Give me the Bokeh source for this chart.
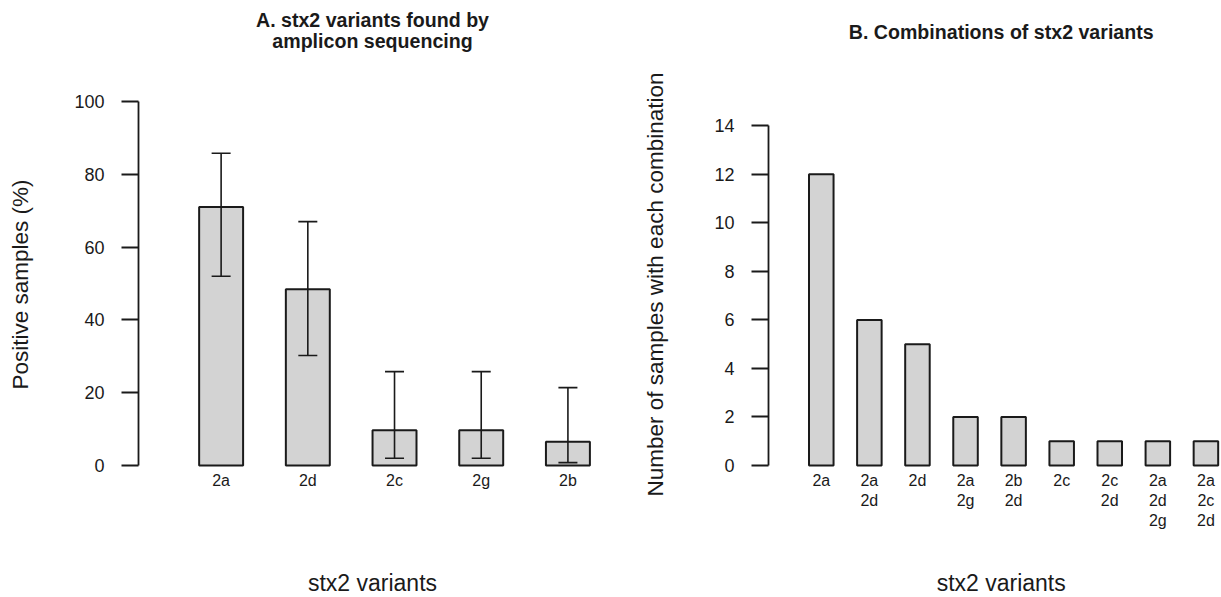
from bokeh.plotting import figure
from bokeh.layouts import row, column
from bokeh.models import (Range1d, FixedTicker, Whisker, TeeHead, ColumnDataSource,
                          Label)
from bokeh.embed import file_html
from bokeh.resources import INLINE

FONT = "Liberation Sans"
INK = "#1a1a1a"
BAR_FILL = "#d3d3d3"

# ---- Panel A data ----
variants = ["2a", "2d", "2c", "2g", "2b"]
positive_pct = [71.0, 48.4, 9.7, 9.7, 6.5]
ci_lower = [52.0, 30.2, 2.0, 2.0, 0.8]
ci_upper = [85.8, 67.0, 25.8, 25.8, 21.4]
pct_ticks = [0, 20, 40, 60, 80, 100]

# ---- Panel B data ----
combinations = ["2a", "2a\n2d", "2d", "2a\n2g", "2b\n2d", "2c", "2c\n2d",
                "2a\n2d\n2g", "2a\n2c\n2d"]
combo_counts = [12, 6, 5, 2, 2, 1, 1, 1, 1]
count_ticks = [0, 2, 4, 6, 8, 10, 12, 14]

# ---- layout constants (pixels) ----
H = 597
HEAD = 70                     # strip holding the panel title
TOP = 31                      # main figure border above the frame (frame top at 101)
FRAME_H = 366
BOTTOM = 80                   # room for tick labels
MAIN_H = TOP + FRAME_H + BOTTOM
FOOT = H - HEAD - MAIN_H      # strip holding the x-axis title
W1, L1, R1 = 620, 138, 14
W2, L2, R2 = 601, 148, 0
BASELINE_FIX = 0.4            # empirical shift of label baselines (in em)


def text_strip(width, height, items):
    """A blank strip whose frame lines up with the panel frame below/above it.
    items: (text, x from frame left, baseline from strip top, size px, bold)"""
    s = figure(width=width, height=height, x_range=Range1d(0, 1), y_range=Range1d(0, 1),
               output_backend="svg", toolbar_location=None,
               x_axis_location=None, y_axis_location=None,
               min_border_left=0, min_border_right=0, min_border_top=0,
               min_border_bottom=0)
    s.outline_line_color = None
    s.grid.visible = False
    for text, xc, base, size, bold in items:
        s.add_layout(Label(text=text, x=xc, y=height - (base - BASELINE_FIX * size),
                           x_units="screen", y_units="screen",
                           text_align="center", text_baseline="alphabetic",
                           text_font=FONT, text_font_size=f"{size}px",
                           text_font_style="bold" if bold else "normal",
                           text_color=INK))
    return s


def base_style(p, xs, labels, yticks, ybounds, ylabel, ylabel_standoff):
    p.xgrid.visible = False
    p.ygrid.visible = False
    p.outline_line_color = None
    p.background_fill_color = "white"
    p.border_fill_color = "white"

    xa = p.xaxis[0]
    xa.ticker = FixedTicker(ticks=xs)
    xa.major_label_overrides = {x: lab for x, lab in zip(xs, labels)}
    xa.axis_line_color = None
    xa.major_tick_line_color = None
    xa.minor_tick_line_color = None
    xa.major_label_standoff = -2
    xa.major_label_text_font = FONT
    xa.major_label_text_font_size = "16px"
    xa.major_label_text_color = INK
    xa.major_label_text_line_height = 1.18

    ya = p.yaxis[0]
    ya.ticker = FixedTicker(ticks=yticks)
    ya.bounds = ybounds
    ya.axis_line_color = INK
    ya.axis_line_width = 1.8
    ya.major_tick_line_color = INK
    ya.major_tick_line_width = 1.8
    ya.minor_tick_line_color = None
    ya.major_tick_out = 17
    ya.major_tick_in = 0
    ya.major_label_standoff = 17
    ya.major_label_text_font = FONT
    ya.major_label_text_font_size = "18px"
    ya.major_label_text_color = INK
    ya.axis_label = ylabel
    ya.axis_label_standoff = ylabel_standoff
    ya.axis_label_text_font = FONT
    ya.axis_label_text_font_size = "22.5px"
    ya.axis_label_text_font_style = "normal"
    ya.axis_label_text_color = INK


# ---------------- Panel A ----------------
xs_a = list(range(1, len(variants) + 1))
p1 = figure(width=W1, height=MAIN_H, x_range=Range1d(0.047, 5.445),
            y_range=Range1d(-0.549, 100), output_backend="svg",
            toolbar_location=None, min_border_left=L1, min_border_right=R1,
            min_border_top=TOP, min_border_bottom=BOTTOM)
src_a = ColumnDataSource(dict(x=xs_a, top=positive_pct, lower=ci_lower, upper=ci_upper))
p1.vbar(x="x", top="top", bottom=0, width=0.507, source=src_a,
        fill_color=BAR_FILL, line_color=INK, line_width=2)
p1.add_layout(Whisker(source=src_a, base="x", lower="lower", upper="upper",
                      dimension="height", level="annotation",
                      line_color=INK, line_width=1.6,
                      upper_head=TeeHead(size=19, line_color=INK, line_width=1.6),
                      lower_head=TeeHead(size=19, line_color=INK, line_width=1.6)))
base_style(p1, xs_a, variants, pct_ticks, (0, 100), "Positive samples (%)", 38)

c1 = 372 - L1                 # panel A titles are centred at x = 372
head1 = text_strip(W1, HEAD, [("A. stx2 variants found by", c1, 27.5, 19.6, True),
                              ("amplicon sequencing", c1, 48.0, 19.6, True)])
foot1 = text_strip(W1, FOOT, [("stx2 variants", c1, 592 - HEAD - MAIN_H, 23, False)])

# ---------------- Panel B ----------------
xs_b = list(range(1, len(combinations) + 1))
p2 = figure(width=W2, height=MAIN_H, x_range=Range1d(-0.098, 9.324),
            y_range=Range1d(-0.0825, 15.0), output_backend="svg",
            toolbar_location=None, min_border_left=L2, min_border_right=R2,
            min_border_top=TOP, min_border_bottom=BOTTOM)
src_b = ColumnDataSource(dict(x=xs_b, top=combo_counts))
p2.vbar(x="x", top="top", bottom=0, width=0.51, source=src_b,
        fill_color=BAR_FILL, line_color=INK, line_width=2)
base_style(p2, xs_b, combinations, count_ticks, (0, 14),
           "Number of samples with each combination", 43)

c2 = 1000.7 - (W1 + L2)       # panel B titles are centred at x = 1000.7
head2 = text_strip(W2, HEAD, [("B. Combinations of stx2 variants", c2, 39.0, 19.6, True)])
foot2 = text_strip(W2, FOOT, [("stx2 variants", c2, 592 - HEAD - MAIN_H, 23, False)])

layout = row(column(head1, p1, foot1), column(head2, p2, foot2))
open("out.html", "w").write(file_html(layout, INLINE))
